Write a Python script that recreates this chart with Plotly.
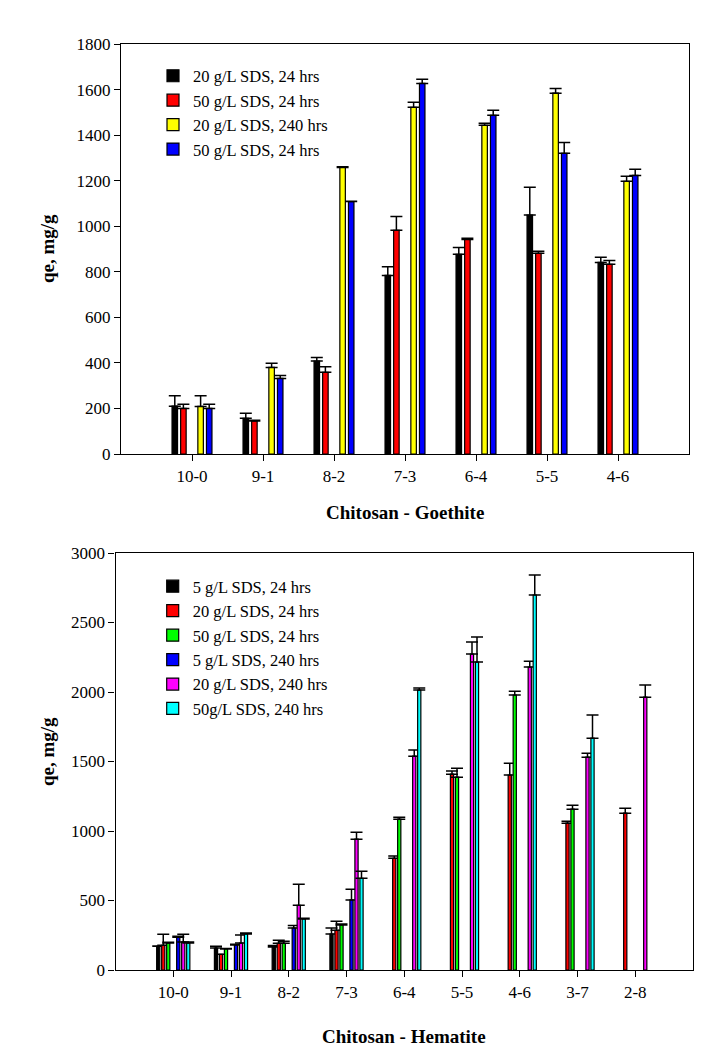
import plotly.graph_objects as go

# ---------------- Top chart: Chitosan - Goethite ----------------
goe_categories = ["10-0", "9-1", "8-2", "7-3", "6-4", "5-5", "4-6"]
goe_names = ["20 g/L SDS, 24 hrs", "50 g/L SDS, 24 hrs", "20 g/L SDS, 240 hrs", "50 g/L SDS, 24 hrs"]
goe_20_24 = [210, 157, 408, 784, 877, 1049, 841]
goe_20_24_err = [46, 22, 16, 38, 30, 122, 23]
goe_50_24 = [200, 145, 359, 982, 942, 881, 833]
goe_50_24_err = [18, 3, 24, 61, 5, 9, 17]
goe_20_240 = [209, 380, 1258, 1522, 1443, 1584, 1197]
goe_20_240_err = [47, 18, 3, 22, 9, 21, 22]
goe_50_240 = [200, 332, 1108, 1627, 1487, 1320, 1223]
goe_50_240_err = [18, 13, 2, 18, 22, 48, 27]
goe_ticks = [0, 200, 400, 600, 800, 1000, 1200, 1400, 1600, 1800]

# ---------------- Bottom chart: Chitosan - Hematite ----------------
hem_categories = ["10-0", "9-1", "8-2", "7-3", "6-4", "5-5", "4-6", "3-7", "2-8"]
hem_names = ["5 g/L SDS, 24 hrs", "20 g/L SDS, 24 hrs", "50 g/L SDS, 24 hrs",
             "5 g/L SDS, 240 hrs", "20 g/L SDS, 240 hrs", "50g/L SDS, 240 hrs"]
hem_5_24 = [171, 158, 166, 259, None, None, None, None, None]
hem_5_24_err = [2, 13, 11, 43, 0, 0, 0, 0, 0]
hem_20_24 = [178, 113, 192, 286, 804, 1409, 1402, 1056, 1128]
hem_20_24_err = [79, 0, 22, 64, 17, 22, 86, 15, 36]
hem_50_24 = [194, 151, 192, 324, 1085, 1387, 1978, 1157, None]
hem_50_24_err = [5, 4, 14, 7, 14, 65, 28, 29, 0]
hem_5_240 = [235, 180, 302, 504, None, None, None, None, None]
hem_5_240_err = [7, 5, 19, 77, 0, 0, 0, 0, 0]
hem_20_240 = [202, 194, 466, 941, 1538, 2273, 2179, 1531, 1963]
hem_20_240_err = [55, 58, 151, 50, 44, 86, 43, 29, 87]
hem_50_240 = [194, 259, 367, 660, 2014, 2215, 2698, 1668, None]
hem_50_240_err = [8, 7, 5, 50, 14, 180, 144, 166, 0]
hem_ticks = [0, 500, 1000, 1500, 2000, 2500, 3000]

# page body has an 8px margin, so the figure covers the window from (8, 8)
OFF = 8
W, H = 728 - OFF, 1052 - OFF
FONT = "Liberation Serif"
LEG_SIZE = 16.5

fig = go.Figure()


def add_bars(cats, vals, errs, name, color, xa, ya, legend, cap):
    fig.add_trace(go.Bar(
        x=cats, y=vals, name=name, xaxis=xa, yaxis=ya, legend=legend,
        marker=dict(color=color, line=dict(color="black", width=1.2)),
        error_y=dict(type="data", array=errs, arrayminus=[0] * len(errs), symmetric=False,
                     color="black", thickness=1.5, width=cap, visible=True),
    ))


def add_spacer(cats, xa, ya, legend):
    fig.add_trace(go.Bar(x=cats, y=[None] * len(cats), xaxis=xa, yaxis=ya, legend=legend,
                         showlegend=False, hoverinfo="skip", marker=dict(color="rgba(0,0,0,0)")))


# top
add_bars(goe_categories, goe_20_24, goe_20_24_err, goe_names[0], "#000000", "x", "y", "legend", 6)
add_bars(goe_categories, goe_50_24, goe_50_24_err, goe_names[1], "#ff0000", "x", "y", "legend", 6)
add_spacer(goe_categories, "x", "y", "legend")
add_bars(goe_categories, goe_20_240, goe_20_240_err, goe_names[2], "#ffff00", "x", "y", "legend", 6)
add_bars(goe_categories, goe_50_240, goe_50_240_err, goe_names[3], "#0000ff", "x", "y", "legend", 6)

# bottom
add_bars(hem_categories, hem_5_24, hem_5_24_err, hem_names[0], "#000000", "x2", "y2", "legend2", 6)
add_bars(hem_categories, hem_20_24, hem_20_24_err, hem_names[1], "#ff0000", "x2", "y2", "legend2", 6)
add_bars(hem_categories, hem_50_24, hem_50_24_err, hem_names[2], "#00ff00", "x2", "y2", "legend2", 6)
add_spacer(hem_categories, "x2", "y2", "legend2")
add_bars(hem_categories, hem_5_240, hem_5_240_err, hem_names[3], "#0000ff", "x2", "y2", "legend2", 6)
add_bars(hem_categories, hem_20_240, hem_20_240_err, hem_names[4], "#ff00ff", "x2", "y2", "legend2", 6)
add_bars(hem_categories, hem_50_240, hem_50_240_err, hem_names[5], "#00ffff", "x2", "y2", "legend2", 6)


def px_x(p):
    return (p - OFF) / W


def px_y(p):
    return 1 - (p - OFF) / H


axis_common = dict(showline=True, linecolor="black", linewidth=1.3, mirror=True,
                   ticks="outside", ticklen=6, tickwidth=1.3, tickcolor="black",
                   showgrid=False, zeroline=False, automargin=False,
                   tickfont=dict(family=FONT, size=17, color="black"))

fig.update_layout(
    template="none",
    width=W, height=H, margin=dict(l=0, r=0, t=0, b=0, pad=0, autoexpand=False),
    paper_bgcolor="white", plot_bgcolor="white",
    barmode="group",
    bargap=0.394, bargroupgap=0.36,
    font=dict(family=FONT, color="black"),
    xaxis=dict(domain=[px_x(121), px_x(689)], anchor="y", type="category",
               categoryorder="array", categoryarray=goe_categories, range=[-1, 7], **axis_common),
    yaxis=dict(domain=[px_y(454), px_y(44)], anchor="x", range=[0, 1800],
               tickvals=goe_ticks, **axis_common),
    xaxis2=dict(domain=[px_x(115.5), px_x(693)], anchor="y2", type="category",
                categoryorder="array", categoryarray=hem_categories, range=[-1, 9], **axis_common),
    yaxis2=dict(domain=[px_y(970), px_y(553)], anchor="x2", range=[0, 3000],
                tickvals=hem_ticks, **axis_common),
    legend=dict(x=px_x(153), y=px_y(58.5), xanchor="left", yanchor="top",
                bgcolor="rgba(0,0,0,0)", borderwidth=0,
                font=dict(family=FONT, size=LEG_SIZE, color="black"), tracegroupgap=0),
    legend2=dict(x=px_x(152.7), y=px_y(569), xanchor="left", yanchor="top",
                 bgcolor="rgba(0,0,0,0)", borderwidth=0,
                 font=dict(family=FONT, size=LEG_SIZE, color="black"), tracegroupgap=0),
    showlegend=True,
)

title_font = dict(family=FONT, size=19, color="black")
ann = dict(xref="paper", yref="paper", showarrow=False, font=title_font,
           xanchor="center", yanchor="middle")
fig.add_annotation(text="<b>Chitosan - Goethite</b>", x=(px_x(121) + px_x(689)) / 2, y=px_y(512), **ann)
fig.add_annotation(text="<b>Chitosan - Hematite</b>", x=(px_x(115.5) + px_x(693)) / 2, y=px_y(1036), **ann)
fig.add_annotation(text="<b>qe, mg/g</b>", x=px_x(47), y=px_y(249), textangle=-90, **ann)
fig.add_annotation(text="<b>qe, mg/g</b>", x=px_x(47), y=px_y(752), textangle=-90, **ann)

fig.write_html("out.html")
